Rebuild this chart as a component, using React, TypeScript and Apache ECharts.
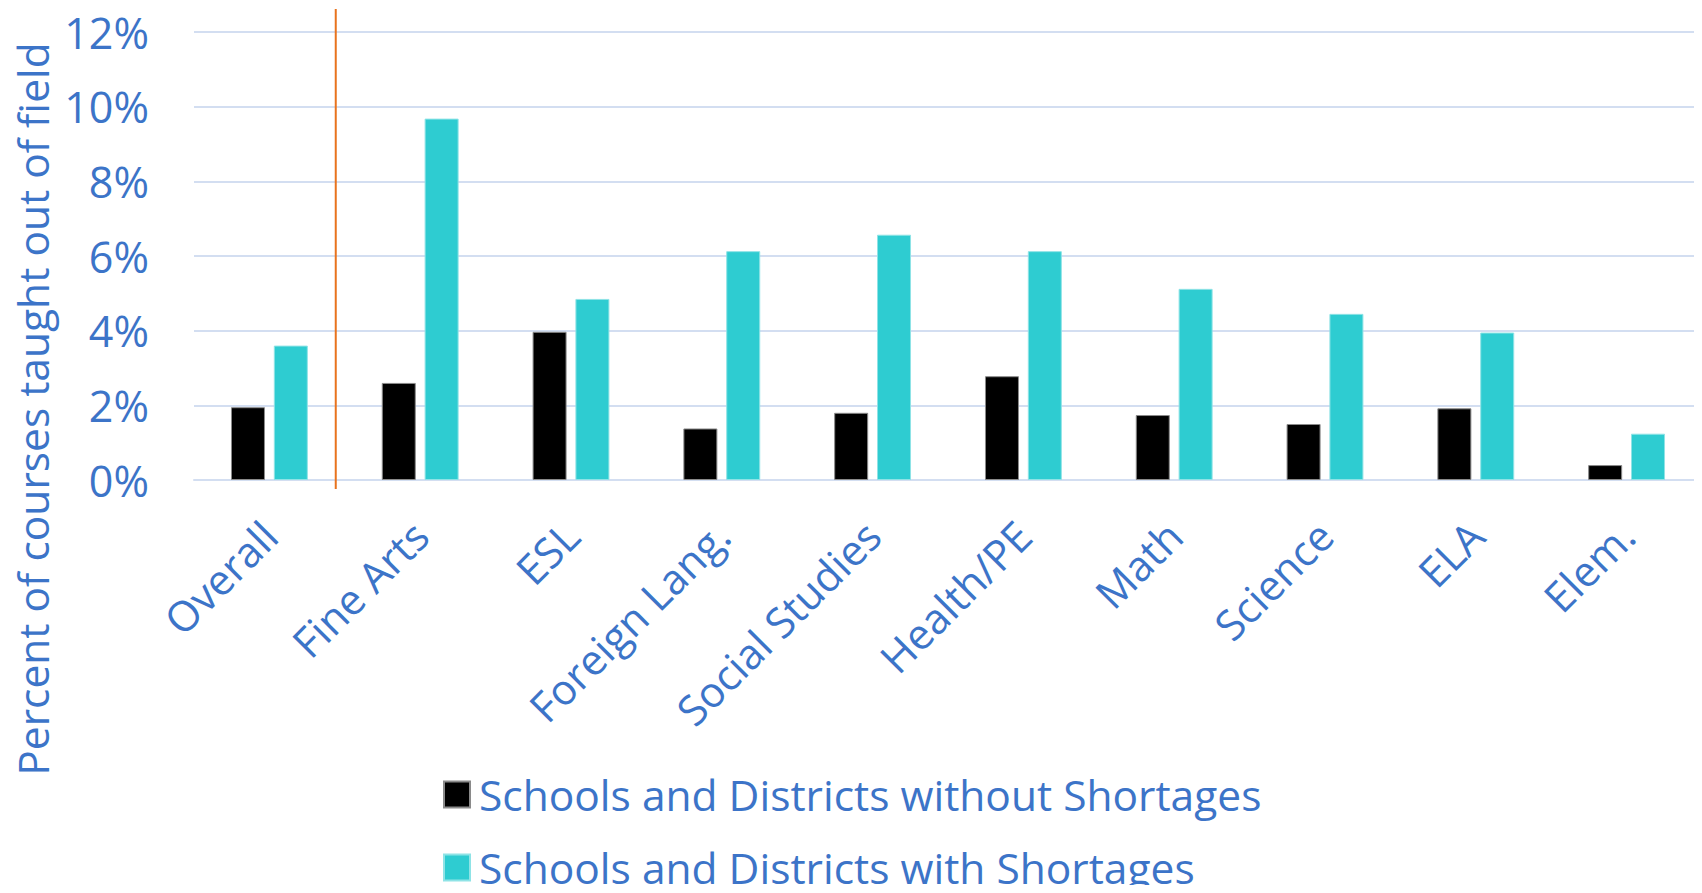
import React, { useEffect, useRef } from "react";
import * as echarts from "echarts";

const categories = [
  "Overall",
  "Fine Arts",
  "ESL",
  "Foreign Lang.",
  "Social Studies",
  "Health/PE",
  "Math",
  "Science",
  "ELA",
  "Elem.",
];
const withoutShortages = [1.95, 2.6, 3.97, 1.38, 1.8, 2.78, 1.74, 1.5, 1.92, 0.4];
const withShortages = [3.6, 9.68, 4.85, 6.13, 6.57, 6.13, 5.12, 4.45, 3.95, 1.24];
const seriesNames = [
  "Schools and Districts without Shortages",
  "Schools and Districts with Shortages",
];
const yTicks = { min: 0, max: 12, interval: 2 };
const axisTitle = "Percent of courses taught out of field";

const BLUE = "#3C74C8";
const FONT = "Open Sans";

const legendBase = {
  orient: "horizontal",
  left: 438,
  itemWidth: 26,
  itemHeight: 26,
  icon: "rect",
  textStyle: { color: BLUE, fontSize: 42.5, fontFamily: FONT, padding: [0, 0, 0, 4] },
};

export default function App() {
  const ref = useRef<HTMLDivElement>(null);
  useEffect(() => {
    if (!ref.current) return;
    const chart = echarts.init(ref.current, null, { renderer: "svg" });
    chart.setOption({
      animation: false,
      textStyle: { fontFamily: FONT },
      grid: { left: 194, right: 0, top: 32, bottom: 413, containLabel: false },
      legend: [
        { ...legendBase, top: 768, data: [seriesNames[0]] },
        { ...legendBase, top: 841, data: [seriesNames[1]] },
      ],
      xAxis: {
        type: "category",
        data: categories,
        axisLine: { show: true, lineStyle: { color: "#D3DEF1", width: 2 } },
        axisTick: { show: false },
        axisLabel: {
          color: BLUE,
          fontSize: 42,
          fontFamily: FONT,
          rotate: 45,
          interval: 0,
          margin: 48,
        },
      },
      yAxis: {
        type: "value",
        min: yTicks.min,
        max: yTicks.max,
        interval: yTicks.interval,
        axisLine: { show: false },
        axisTick: { show: false },
        splitLine: { lineStyle: { color: "#D3DEF1", width: 2 } },
        axisLabel: {
          color: BLUE,
          fontSize: 43,
          fontFamily: FONT,
          margin: 45,
          formatter: (v: number) => v + "%",
        },
      },
      series: [
        {
          name: seriesNames[0],
          type: "bar",
          data: withoutShortages,
          barWidth: 34,
          barGap: "26%",
          itemStyle: { color: "#000000", borderColor: "#8a8a8a", borderWidth: 1 },
        },
        {
          name: seriesNames[1],
          type: "bar",
          data: withShortages,
          barWidth: 34,
          itemStyle: { color: "#2ECCD1", borderColor: "#8fe3e6", borderWidth: 1 },
        },
      ],
    });

    const x0 = chart.convertToPixel({ xAxisIndex: 0 }, categories[0]) as number;
    const x1 = chart.convertToPixel({ xAxisIndex: 0 }, categories[1]) as number;
    const sepX = x0 + (x1 - x0) * 0.44;
    const yTop = chart.convertToPixel({ yAxisIndex: 0 }, yTicks.max) as number;
    const yBase = chart.convertToPixel({ yAxisIndex: 0 }, 0) as number;
    chart.setOption({
      graphic: [
        {
          type: "line",
          shape: { x1: sepX, y1: yTop - 23, x2: sepX, y2: yBase + 9 },
          style: { stroke: "#E8731E", lineWidth: 2 },
          z: 10,
        },
        {
          type: "text",
          x: 32,
          y: 409,
          rotation: Math.PI / 2,
          style: {
            text: axisTitle,
            fill: BLUE,
            fontSize: 42.5,
            fontFamily: FONT,
            align: "center",
            verticalAlign: "middle",
          },
        },
      ],
    });

    return () => chart.dispose();
  }, []);
  return <div ref={ref} style={{ width: 1702, height: 893, margin: -8 }} />;
}
